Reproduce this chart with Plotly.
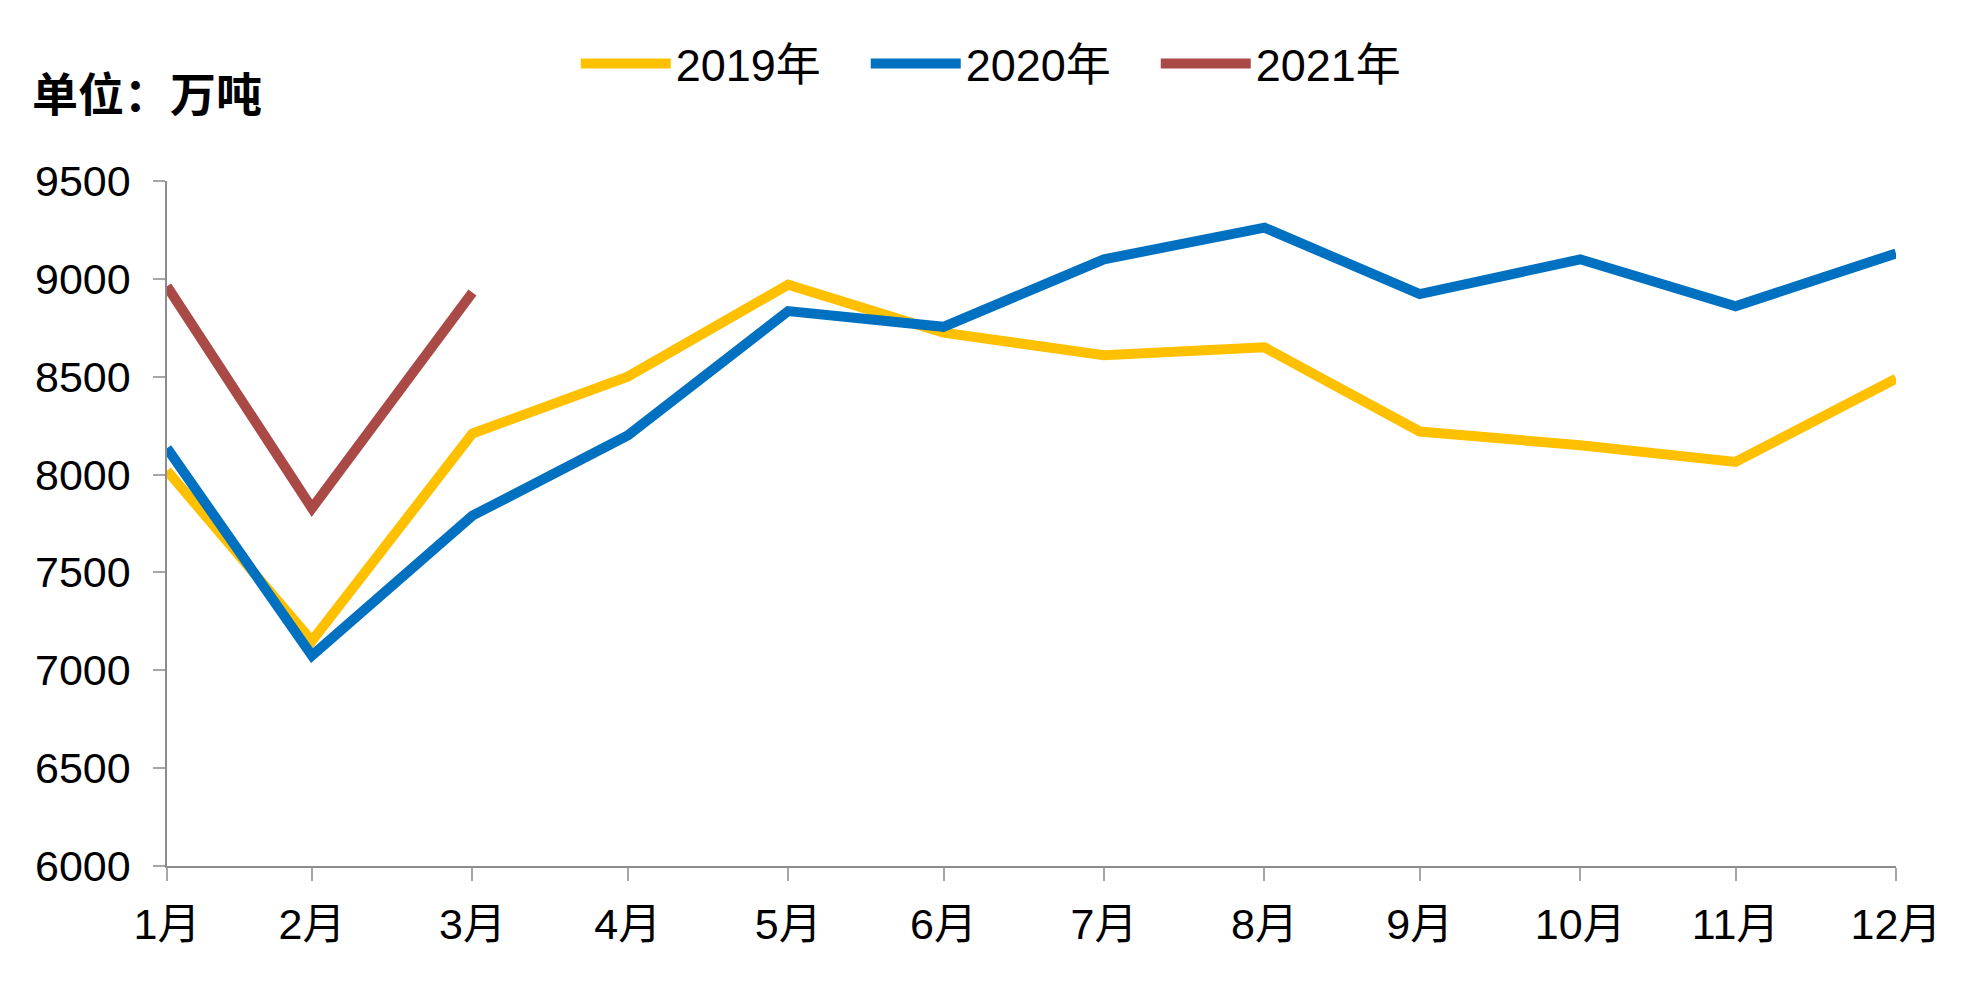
import plotly.graph_objects as go

# Month-end dates (Excel date axis) and labels
months = ["2019-01-31", "2019-02-28", "2019-03-31", "2019-04-30", "2019-05-31", "2019-06-30",
          "2019-07-31", "2019-08-31", "2019-09-30", "2019-10-31", "2019-11-30", "2019-12-31"]
month_labels = ["1月", "2月", "3月", "4月", "5月", "6月", "7月", "8月", "9月", "10月", "11月", "12月"]

s2019 = [8020, 7150, 8210, 8500, 8970, 8725, 8610, 8650, 8220, 8150, 8065, 8490]
s2020 = [8135, 7075, 7790, 8200, 8835, 8755, 9100, 9262, 8922, 9100, 8860, 9130]
s2021 = [8962, 7828, 8930]

names = ["2019年", "2020年", "2021年"]
colors = ["#FFC000", "#0070C0", "#A94A47"]

y_ticks = [6000, 6500, 7000, 7500, 8000, 8500, 9000, 9500]

FONT = "Liberation Sans, Noto Sans CJK SC, sans-serif"

fig = go.Figure()
for name, ys, col in zip(names, [s2019, s2020, s2021], colors):
    fig.add_trace(go.Scatter(
        x=months[:len(ys)], y=ys, name=name, mode="lines",
        line=dict(color=col, width=10),
    ))

fig.update_layout(
    width=1974, height=991,
    paper_bgcolor="white", plot_bgcolor="white",
    margin=dict(l=159, r=86, t=173, b=133, autoexpand=False),
    font=dict(family=FONT, size=43, color="black"),
    showlegend=True,
    legend=dict(orientation="h", x=0.488, xanchor="center", y=1.171, yanchor="middle",
                font=dict(size=45, family=FONT), itemwidth=90, entrywidth=185,
                traceorder="normal", bgcolor="rgba(0,0,0,0)"),
    annotations=[dict(text="<b>单位：万吨</b>", xref="paper", yref="paper",
                      x=-0.079, y=1.125, xanchor="left", yanchor="middle",
                      showarrow=False, font=dict(size=46, family=FONT, color="black"))],
)

fig.update_xaxes(
    type="date", range=[months[0], months[-1]],
    tickmode="array", tickvals=months, ticktext=month_labels,
    showgrid=False, zeroline=False, automargin=False,
    showline=True, linecolor="#8C8C8C", linewidth=1.5,
    ticks="outside", ticklen=13, tickcolor="#A6A6A6", tickwidth=1.5,
    ticklabelstandoff=7,
)
fig.update_yaxes(
    range=[6000, 9500], tickmode="array", tickvals=y_ticks,
    showgrid=False, zeroline=False, automargin=False,
    showline=True, linecolor="#8C8C8C", linewidth=1.5,
    ticks="outside", ticklen=12, tickcolor="#A6A6A6", tickwidth=1.5,
    ticklabelstandoff=14,
)

fig.write_html("out.html")
